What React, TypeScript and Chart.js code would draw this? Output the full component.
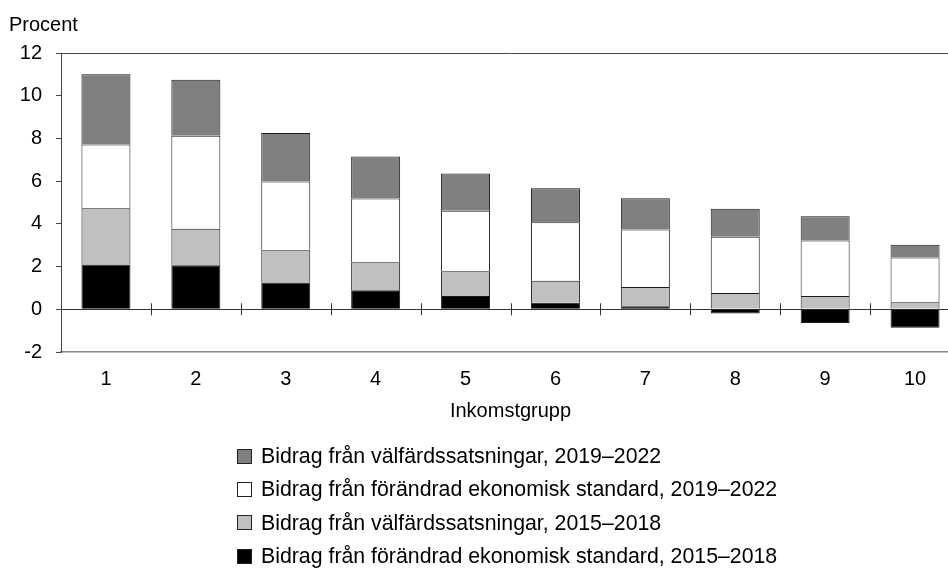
import React, { useEffect, useRef } from "react";
import { Chart, registerables } from "chart.js";

Chart.register(...registerables);

// ---- Data ----
const categories = ["1", "2", "3", "4", "5", "6", "7", "8", "9", "10"];
// Bidrag från förändrad ekonomisk standard, 2015–2018
const standard1518 = [2.1, 2.06, 1.26, 0.89, 0.62, 0.31, 0.14, -0.2, -0.64, -0.86];
// Bidrag från välfärdssatsningar, 2015–2018
const welfare1518 = [2.63, 1.71, 1.5, 1.31, 1.16, 1.03, 0.9, 0.76, 0.62, 0.33];
// Bidrag från förändrad ekonomisk standard, 2019–2022
const standard1922 = [2.99, 4.35, 3.22, 2.99, 2.83, 2.74, 2.7, 2.64, 2.6, 2.09];
// Bidrag från välfärdssatsningar, 2019–2022
const welfare1922 = [3.29, 2.63, 2.28, 1.96, 1.75, 1.59, 1.46, 1.31, 1.14, 0.6];

const yMin = -2;
const yMax = 12;
const yStep = 2;

const yTitle = "Procent";
const xTitle = "Inkomstgrupp";

const labelWelfare1922 = "Bidrag från välfärdssatsningar, 2019–2022";
const labelStandard1922 = "Bidrag från förändrad ekonomisk standard, 2019–2022";
const labelWelfare1518 = "Bidrag från välfärdssatsningar, 2015–2018";
const labelStandard1518 = "Bidrag från förändrad ekonomisk standard, 2015–2018";

const FONT = '"Liberation Sans", Arial, Helvetica, sans-serif';
const BORDER = "#1a1a1a";

const legendItems = [
  { label: labelWelfare1922, color: "#808080" },
  { label: labelStandard1922, color: "#ffffff" },
  { label: labelWelfare1518, color: "#c0c0c0" },
  { label: labelStandard1518, color: "#000000" },
];

const decorPlugin = {
  id: "decor",
  afterDraw(chart: any) {
    const { ctx, chartArea: a, scales } = chart;
    ctx.save();
    // top frame line
    ctx.strokeStyle = "#444";
    ctx.lineWidth = 1;
    ctx.beginPath();
    ctx.moveTo(a.left, Math.round(a.top) + 0.5);
    ctx.lineTo(a.right, Math.round(a.top) + 0.5);
    ctx.stroke();

    // category tick marks crossing the zero line
    const y0 = scales.y.getPixelForValue(0);
    const n = categories.length;
    const w = (a.right - a.left) / n;
    ctx.strokeStyle = "#333";
    ctx.beginPath();
    for (let i = 1; i <= n; i++) {
      const x = Math.round(a.left + i * w) + 0.5;
      ctx.moveTo(x, y0 - 6);
      ctx.lineTo(x, y0 + 6);
    }
    ctx.stroke();

    // texts
    ctx.fillStyle = "#000";
    ctx.font = `20px ${FONT}`;
    ctx.textBaseline = "alphabetic";
    ctx.textAlign = "left";
    ctx.fillText(yTitle, 9, a.top - 22);
    ctx.textAlign = "center";
    ctx.fillText(xTitle, (a.left + a.right) / 2, a.bottom + 65);

    // legend
    const boxX = 237;
    const firstRow = a.bottom + 104;
    const rowGap = 33.4;
    ctx.font = `21.3px ${FONT}`;
    ctx.textAlign = "left";
    ctx.textBaseline = "middle";
    legendItems.forEach((it, i) => {
      const cy = firstRow + i * rowGap;
      const top = Math.round(cy - 7.5);
      ctx.fillStyle = it.color;
      ctx.fillRect(boxX, top, 15, 15);
      ctx.strokeStyle = "#222";
      ctx.lineWidth = 1;
      ctx.strokeRect(boxX + 0.5, top + 0.5, 14, 14);
      ctx.fillStyle = "#000";
      ctx.fillText(it.label, boxX + 24, cy + 1);
    });
    ctx.restore();
  },
};

export default function App() {
  const ref = useRef<HTMLCanvasElement | null>(null);

  useEffect(() => {
    if (!ref.current) return;
    const mk = (label: string, data: number[], color: string) => ({
      label,
      data,
      backgroundColor: color,
      borderColor: BORDER,
      borderWidth: 1,
      borderSkipped: "start",
      barPercentage: 0.545,
      categoryPercentage: 1,
    });
    const chart = new Chart(ref.current, {
      type: "bar",
      data: {
        labels: categories,
        datasets: [
          mk(labelStandard1518, standard1518, "#000000"),
          mk(labelWelfare1518, welfare1518, "#c0c0c0"),
          mk(labelStandard1922, standard1922, "#ffffff"),
          mk(labelWelfare1922, welfare1922, "#808080"),
        ],
      },
      options: {
        animation: false,
        responsive: false,
        devicePixelRatio: 1,
        layout: { padding: { left: 0, top: 53, right: 20, bottom: 176 } },
        plugins: {
          legend: { display: false },
          tooltip: { enabled: false },
          title: { display: false },
        },
        scales: {
          x: {
            stacked: true,
            afterFit: (s: any) => {
              s.height = 40;
            },
            grid: { display: false, drawTicks: false },
            border: { display: true, color: "#888", width: 1.5 },
            ticks: {
              color: "#000",
              padding: 15,
              font: { family: FONT, size: 20 },
              maxRotation: 0,
            },
          },
          y: {
            stacked: true,
            min: yMin,
            max: yMax,
            afterFit: (s: any) => {
              s.width = 61;
            },
            border: { display: true, color: "#444", width: 1 },
            grid: {
              color: (c: any) => (c.tick && c.tick.value === 0 ? "#333" : "rgba(0,0,0,0)"),
              tickColor: "#444",
              tickLength: 5,
              drawTicks: true,
            },
            ticks: {
              stepSize: yStep,
              color: "#000",
              padding: 14,
              font: { family: FONT, size: 20 },
            },
          },
        },
      },
      plugins: [decorPlugin],
    });
    return () => chart.destroy();
  }, []);

  return (
    <div
      style={{
        position: "fixed",
        left: 0,
        top: 0,
        width: 948,
        height: 568,
        overflow: "hidden",
        background: "#fff",
      }}
    >
      <canvas ref={ref} width={980} height={568} style={{ display: "block", width: 980, height: 568 }} />
    </div>
  );
}
